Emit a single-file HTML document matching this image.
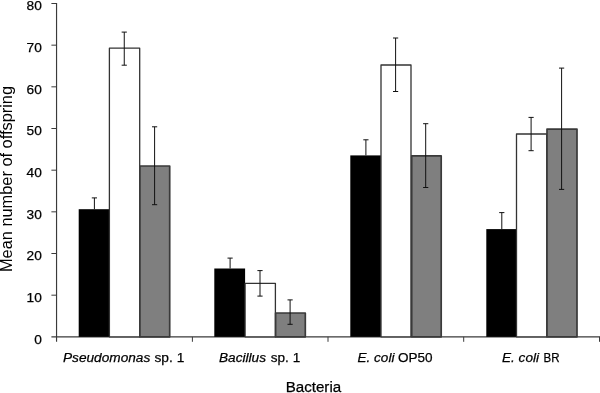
<!DOCTYPE html>
<html><head><meta charset="utf-8"><title>Chart</title>
<style>
html,body{margin:0;padding:0;background:#fff;}
body{width:600px;height:393px;overflow:hidden;font-family:"Liberation Sans",sans-serif;}
svg{display:block;font-family:"Liberation Sans",sans-serif;fill:#000;will-change:transform;}
text{stroke:#000;stroke-width:0.25px;}
text.t{stroke:none;}
</style></head><body>
<svg width="600" height="393" viewBox="0 0 600 393">
<rect x="0" y="0" width="600" height="393" fill="#fff"/>
<line x1="56.55" y1="3.0" x2="56.55" y2="341.8" stroke="#3a3a3a" stroke-width="1.15"/>
<line x1="51.4" y1="336.85" x2="600" y2="336.85" stroke="#3a3a3a" stroke-width="1.1"/>
<line x1="51.4" y1="295.18" x2="56.5" y2="295.18" stroke="#3a3a3a" stroke-width="1"/>
<line x1="51.4" y1="253.51" x2="56.5" y2="253.51" stroke="#3a3a3a" stroke-width="1"/>
<line x1="51.4" y1="211.84" x2="56.5" y2="211.84" stroke="#3a3a3a" stroke-width="1"/>
<line x1="51.4" y1="170.18" x2="56.5" y2="170.18" stroke="#3a3a3a" stroke-width="1"/>
<line x1="51.4" y1="128.51" x2="56.5" y2="128.51" stroke="#3a3a3a" stroke-width="1"/>
<line x1="51.4" y1="86.84" x2="56.5" y2="86.84" stroke="#3a3a3a" stroke-width="1"/>
<line x1="51.4" y1="45.17" x2="56.5" y2="45.17" stroke="#3a3a3a" stroke-width="1"/>
<line x1="51.4" y1="3.50" x2="56.5" y2="3.50" stroke="#3a3a3a" stroke-width="1"/>
<line x1="192.40" y1="336.85" x2="192.40" y2="341.8" stroke="#3a3a3a" stroke-width="1"/>
<line x1="328.00" y1="336.85" x2="328.00" y2="341.8" stroke="#3a3a3a" stroke-width="1"/>
<line x1="463.70" y1="336.85" x2="463.70" y2="341.8" stroke="#3a3a3a" stroke-width="1"/>
<line x1="599.50" y1="336.85" x2="599.50" y2="341.8" stroke="#3a3a3a" stroke-width="1"/>
<rect x="78.70" y="209.20" width="30.50" height="127.65" fill="#000"/>
<rect x="109.40" y="48.20" width="30.30" height="288.65" fill="#fff" stroke="#333" stroke-width="1.3" stroke-linejoin="round"/>
<rect x="139.90" y="166.00" width="29.80" height="170.85" fill="#7f7f7f" stroke="#3a3a3a" stroke-width="1.7" stroke-linejoin="round"/>
<rect x="214.30" y="268.50" width="30.80" height="68.35" fill="#000"/>
<rect x="245.10" y="283.30" width="30.30" height="53.55" fill="#fff" stroke="#333" stroke-width="1.3" stroke-linejoin="round"/>
<rect x="275.60" y="313.00" width="29.70" height="23.85" fill="#7f7f7f" stroke="#3a3a3a" stroke-width="1.7" stroke-linejoin="round"/>
<rect x="350.30" y="155.40" width="30.60" height="181.45" fill="#000"/>
<rect x="381.00" y="65.00" width="30.00" height="271.85" fill="#fff" stroke="#333" stroke-width="1.3" stroke-linejoin="round"/>
<rect x="411.70" y="155.80" width="29.50" height="181.05" fill="#7f7f7f" stroke="#3a3a3a" stroke-width="1.7" stroke-linejoin="round"/>
<rect x="486.30" y="229.10" width="30.20" height="107.75" fill="#000"/>
<rect x="516.50" y="134.00" width="30.30" height="202.85" fill="#fff" stroke="#333" stroke-width="1.3" stroke-linejoin="round"/>
<rect x="547.00" y="129.10" width="30.00" height="207.75" fill="#7f7f7f" stroke="#3a3a3a" stroke-width="1.7" stroke-linejoin="round"/>
<line x1="94.40" y1="197.90" x2="94.40" y2="209.20" stroke="#111" stroke-width="1"/>
<line x1="91.80" y1="197.90" x2="97.00" y2="197.90" stroke="#111" stroke-width="1"/>
<line x1="124.25" y1="32.10" x2="124.25" y2="65.20" stroke="#111" stroke-width="1"/>
<line x1="121.65" y1="32.10" x2="126.85" y2="32.10" stroke="#111" stroke-width="1"/>
<line x1="121.65" y1="65.20" x2="126.85" y2="65.20" stroke="#111" stroke-width="1"/>
<line x1="154.60" y1="126.80" x2="154.60" y2="204.70" stroke="#111" stroke-width="1"/>
<line x1="152.00" y1="126.80" x2="157.20" y2="126.80" stroke="#111" stroke-width="1"/>
<line x1="152.00" y1="204.70" x2="157.20" y2="204.70" stroke="#111" stroke-width="1"/>
<line x1="230.10" y1="258.10" x2="230.10" y2="268.50" stroke="#111" stroke-width="1"/>
<line x1="227.50" y1="258.10" x2="232.70" y2="258.10" stroke="#111" stroke-width="1"/>
<line x1="260.00" y1="270.60" x2="260.00" y2="296.10" stroke="#111" stroke-width="1"/>
<line x1="257.40" y1="270.60" x2="262.60" y2="270.60" stroke="#111" stroke-width="1"/>
<line x1="257.40" y1="296.10" x2="262.60" y2="296.10" stroke="#111" stroke-width="1"/>
<line x1="290.10" y1="299.90" x2="290.10" y2="324.30" stroke="#111" stroke-width="1"/>
<line x1="287.50" y1="299.90" x2="292.70" y2="299.90" stroke="#111" stroke-width="1"/>
<line x1="287.50" y1="324.30" x2="292.70" y2="324.30" stroke="#111" stroke-width="1"/>
<line x1="365.90" y1="139.80" x2="365.90" y2="155.40" stroke="#111" stroke-width="1"/>
<line x1="363.30" y1="139.80" x2="368.50" y2="139.80" stroke="#111" stroke-width="1"/>
<line x1="395.60" y1="38.00" x2="395.60" y2="91.50" stroke="#111" stroke-width="1"/>
<line x1="393.00" y1="38.00" x2="398.20" y2="38.00" stroke="#111" stroke-width="1"/>
<line x1="393.00" y1="91.50" x2="398.20" y2="91.50" stroke="#111" stroke-width="1"/>
<line x1="425.70" y1="123.70" x2="425.70" y2="187.50" stroke="#111" stroke-width="1"/>
<line x1="423.10" y1="123.70" x2="428.30" y2="123.70" stroke="#111" stroke-width="1"/>
<line x1="423.10" y1="187.50" x2="428.30" y2="187.50" stroke="#111" stroke-width="1"/>
<line x1="501.80" y1="212.60" x2="501.80" y2="229.10" stroke="#111" stroke-width="1"/>
<line x1="499.20" y1="212.60" x2="504.40" y2="212.60" stroke="#111" stroke-width="1"/>
<line x1="531.10" y1="117.40" x2="531.10" y2="150.70" stroke="#111" stroke-width="1"/>
<line x1="528.50" y1="117.40" x2="533.70" y2="117.40" stroke="#111" stroke-width="1"/>
<line x1="528.50" y1="150.70" x2="533.70" y2="150.70" stroke="#111" stroke-width="1"/>
<line x1="561.60" y1="68.10" x2="561.60" y2="189.40" stroke="#111" stroke-width="1"/>
<line x1="559.00" y1="68.10" x2="564.20" y2="68.10" stroke="#111" stroke-width="1"/>
<line x1="559.00" y1="189.40" x2="564.20" y2="189.40" stroke="#111" stroke-width="1"/>
<text x="41.8" y="343.75" text-anchor="end" font-size="13.7">0</text>
<text x="41.8" y="302.08" text-anchor="end" font-size="13.7">10</text>
<text x="41.8" y="260.41" text-anchor="end" font-size="13.7">20</text>
<text x="41.8" y="218.74" text-anchor="end" font-size="13.7">30</text>
<text x="41.8" y="177.08" text-anchor="end" font-size="13.7">40</text>
<text x="41.8" y="135.41" text-anchor="end" font-size="13.7">50</text>
<text x="41.8" y="93.74" text-anchor="end" font-size="13.7">60</text>
<text x="41.8" y="52.07" text-anchor="end" font-size="13.7">70</text>
<text x="41.8" y="10.40" text-anchor="end" font-size="13.7">80</text>
<text x="63.00" y="362.30" font-size="13.7" font-style="italic" textLength="87.30" lengthAdjust="spacingAndGlyphs">Pseudomonas</text>
<text x="154.50" y="362.30" font-size="13.7" textLength="29.80" lengthAdjust="spacingAndGlyphs">sp. 1</text>
<text x="219.00" y="362.30" font-size="13.7" font-style="italic" textLength="47.00" lengthAdjust="spacingAndGlyphs">Bacillus</text>
<text x="270.80" y="362.30" font-size="13.7" textLength="29.40" lengthAdjust="spacingAndGlyphs">sp. 1</text>
<text x="357.60" y="362.30" font-size="13.7" font-style="italic" textLength="36.80" lengthAdjust="spacingAndGlyphs">E. coli</text>
<text x="398.00" y="362.30" font-size="13.7" textLength="34.60" lengthAdjust="spacingAndGlyphs">OP50</text>
<text x="502.00" y="362.30" font-size="13.7" font-style="italic" textLength="37.00" lengthAdjust="spacingAndGlyphs">E. coli</text>
<text x="543.60" y="362.30" font-size="13.7" textLength="16.00" lengthAdjust="spacingAndGlyphs">BR</text>
<text x="285.70" y="391.60" font-size="15.2" textLength="55.50" lengthAdjust="spacingAndGlyphs">Bacteria</text>
<text class="t" transform="translate(12.4,272.0) rotate(-90)" x="0" y="0" font-size="15.6" textLength="186" lengthAdjust="spacingAndGlyphs">Mean number of offspring</text>
</svg>
</body></html>
